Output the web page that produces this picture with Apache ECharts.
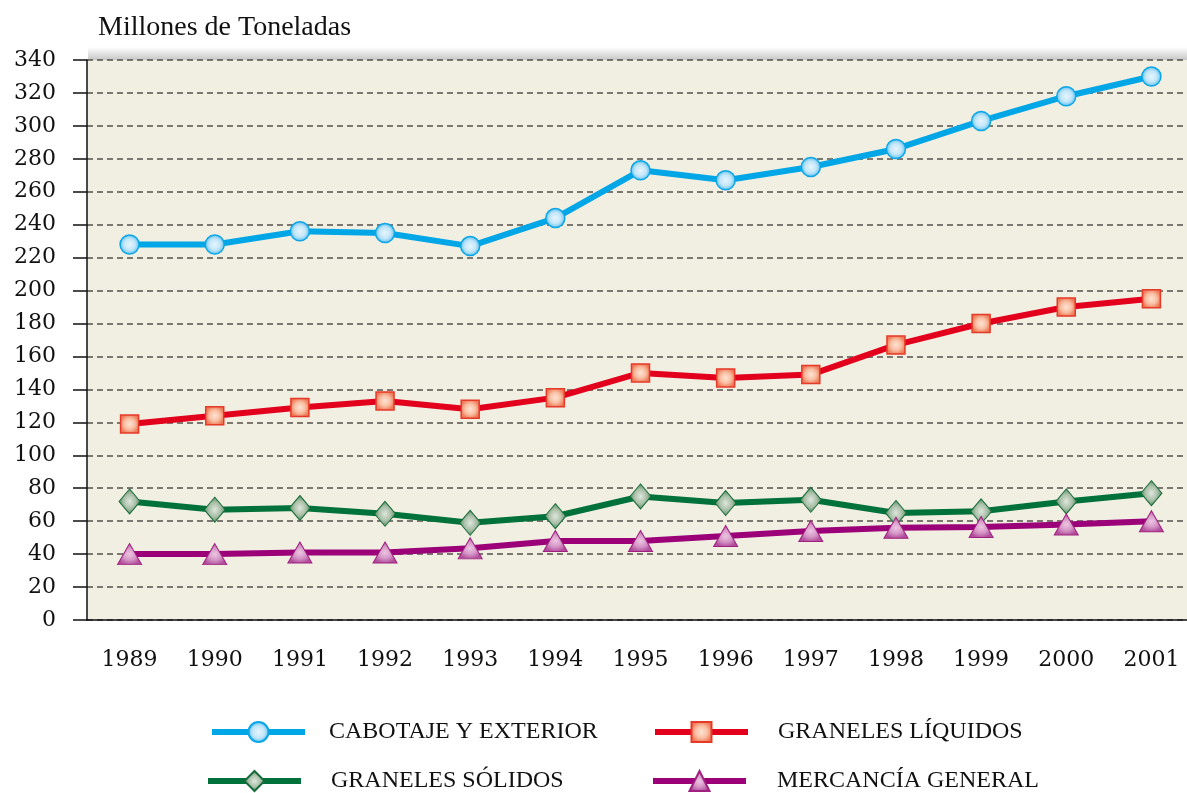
<!DOCTYPE html>
<html>
<head>
<meta charset="utf-8">
<style>
  html, body { margin: 0; padding: 0; background: #ffffff; }
  #main { width: 1187px; height: 793px; }
</style>
<script src="https://cdn.jsdelivr.net/npm/echarts@6/dist/echarts.min.js"></script>
</head>
<body>
<div id="main"></div>
<script>
// datos
const years = ['1989', '1990', '1991', '1992', '1993', '1994', '1995', '1996', '1997', '1998', '1999', '2000', '2001']
const cabotaje = [228, 228, 236, 235, 227, 244, 273, 267, 275, 286, 303, 318, 330]
const liquidos = [119, 124, 129, 133, 128, 135, 150, 147, 149, 167, 180, 190, 195]
const solidos = [72, 67, 68, 64.5, 59, 63, 75, 71, 73, 65, 66, 72, 77]
const mercancia = [40, 40, 41, 41, 43.5, 48, 48, 51, 54, 56, 56.5, 58, 60]
const yTicks = [0, 340, 20]

const serif = "'DejaVu Serif', serif"
const legendFont = "'Liberation Serif', serif"

function radial (inner, mid, outer) {
  return {
    type: 'radial', x: 0.5, y: 0.5, r: 0.5,
    colorStops: [
      { offset: 0, color: inner },
      { offset: 0.55, color: mid },
      { offset: 1, color: outer }
    ]
  }
}

const chart = echarts.init(document.getElementById('main'))

function legendAt (name, left, top, gap) {
  return {
    data: [name],
    left: left,
    top: top,
    itemWidth: 93,
    itemHeight: 25,
    selectedMode: false,
    lineStyle: { width: 6 },
    textStyle: {
      fontFamily: legendFont,
      fontSize: 24,
      color: '#111',
      padding: [0, 0, 0, gap]
    }
  }
}

const option = {
  animation: false,
  title: {
    text: 'Millones de Toneladas',
    left: 93,
    top: 9,
    textStyle: { fontFamily: legendFont, fontSize: 28, fontWeight: 'normal', color: '#111' }
  },
  legend: [
    legendAt('CABOTAJE Y EXTERIOR', 204, 715, 19),
    legendAt('GRANELES LÍQUIDOS', 647, 715, 25),
    legendAt('GRANELES SÓLIDOS', 200, 764, 25),
    legendAt('MERCANCÍA GENERAL', 645, 764, 26)
  ],
  graphic: [
    {
      type: 'rect',
      shape: { x: 88, y: 47, width: 1100, height: 13 },
      style: {
        fill: {
          type: 'linear', x: 0, y: 0, x2: 0, y2: 1,
          colorStops: [
            { offset: 0, color: 'rgba(0,0,0,0)' },
            { offset: 1, color: 'rgba(0,0,0,0.22)' }
          ]
        }
      },
      silent: true,
      z: -1
    }
  ],
  grid: {
    show: true,
    left: 87,
    top: 60,
    width: 1107,
    bottom: 173,
    outerBoundsMode: 'none',
    backgroundColor: '#f1eee2',
    borderWidth: 0
  },
  xAxis: {
    type: 'category',
    data: years,
    boundaryGap: true,
    axisLine: { lineStyle: { color: '#111', width: 1.5 } },
    axisTick: { alignWithLabel: true, length: 13, lineStyle: { color: '#111', width: 1.5 } },
    axisLabel: { margin: 29, fontFamily: serif, fontSize: 22, color: '#111' }
  },
  yAxis: {
    type: 'value',
    min: yTicks[0],
    max: yTicks[1],
    interval: yTicks[2],
    axisLine: { show: true, lineStyle: { color: '#111', width: 1.5 } },
    axisTick: { show: true, length: 14, lineStyle: { color: '#111', width: 1.5 } },
    axisLabel: { margin: 31, fontFamily: serif, fontSize: 22, color: '#111' },
    splitLine: { show: true, lineStyle: { color: '#55524c', width: 1.6, type: [6, 4] } }
  },
  series: [
    {
      name: 'CABOTAJE Y EXTERIOR',
      type: 'line',
      data: cabotaje,
      symbol: 'circle',
      symbolSize: 19,
      lineStyle: { color: '#00a6e6', width: 6 },
      itemStyle: {
        color: radial('#e6f5fd', '#c2e6f9', '#56bdee'),
        borderColor: '#0aa6e6',
        borderWidth: 1.5
      }
    },
    {
      name: 'GRANELES LÍQUIDOS',
      type: 'line',
      data: liquidos,
      symbol: 'rect',
      symbolSize: 18,
      lineStyle: { color: '#e2001c', width: 6 },
      itemStyle: {
        color: radial('#fde3d4', '#f9bfa3', '#ee7a58'),
        borderColor: '#e63a28',
        borderWidth: 1.5
      }
    },
    {
      name: 'GRANELES SÓLIDOS',
      type: 'line',
      data: solidos,
      symbol: 'diamond',
      symbolSize: [21, 25],
      lineStyle: { color: '#00713a', width: 6 },
      itemStyle: {
        color: radial('#dfe6dc', '#a9bfa8', '#4f8a5c'),
        borderColor: '#166b3a',
        borderWidth: 1
      }
    },
    {
      name: 'MERCANCÍA GENERAL',
      type: 'line',
      data: mercancia,
      symbol: 'triangle',
      symbolSize: [24, 21],
      lineStyle: { color: '#9b0079', width: 6 },
      itemStyle: {
        color: radial('#ecc6e2', '#d595c6', '#b24d9c'),
        borderColor: '#a0207f',
        borderWidth: 1
      }
    }
  ]
}

chart.setOption(option)
</script>
</body>
</html>
